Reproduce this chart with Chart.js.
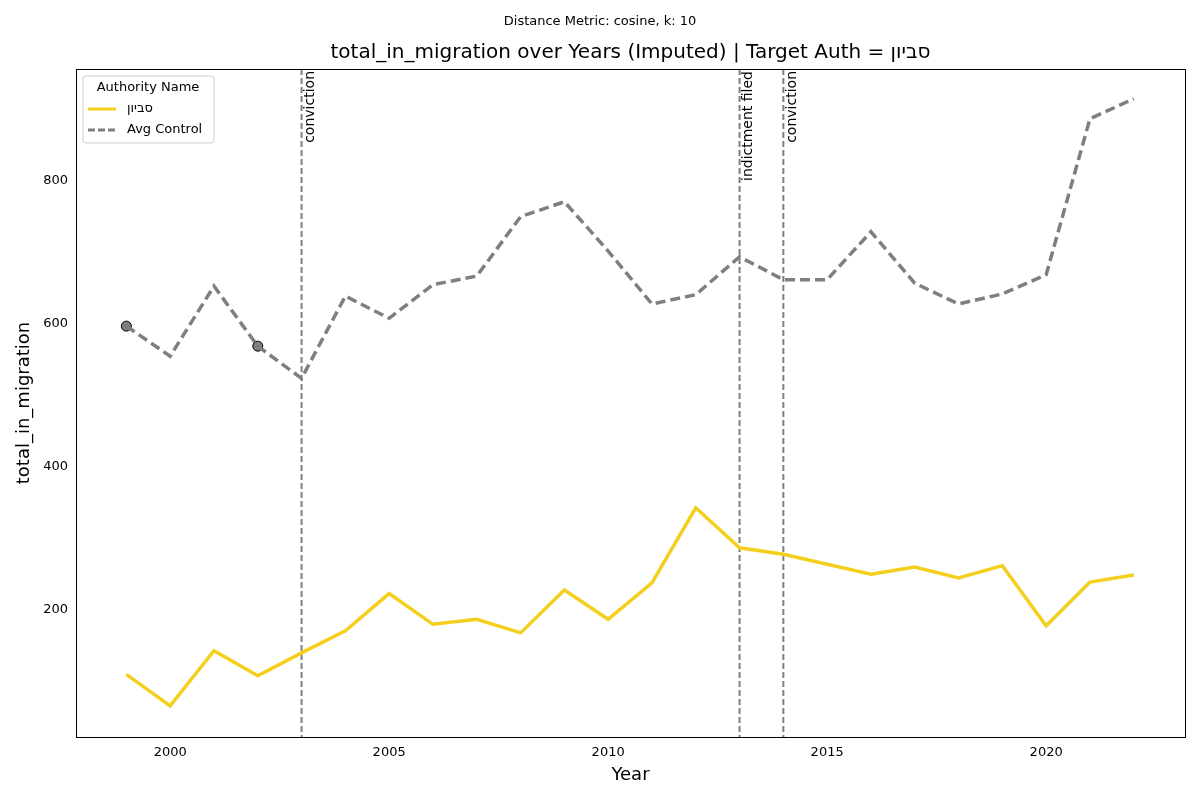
<!DOCTYPE html>
<html>
<head>
<meta charset="utf-8">
<script src="https://cdn.jsdelivr.net/npm/chart.js@4"></script>
<style>
  body { margin: 0; background: #fff; }
  #wrap { width: 1200px; height: 800px; }
</style>
</head>
<body>
<div id="wrap"><canvas id="chart" width="1200" height="800"></canvas></div>
<script>
// Data
const years = [1999, 2000, 2001, 2002, 2003, 2004, 2005, 2006, 2007, 2008, 2009, 2010,
  2011, 2012, 2013, 2014, 2015, 2016, 2017, 2018, 2019, 2020, 2021, 2022];
const targetValues = [110, 66, 143, 108, 140, 171, 223, 180, 187, 168, 228, 187,
  238, 343, 287, 278, 264, 250, 260, 245, 262, 178, 239, 249];
const controlValues = [597, 555, 653, 569, 524, 639, 608, 655, 667, 750, 771, 702,
  628, 641, 694, 662, 662, 729, 657, 628, 642, 669, 887, 915];
const imputedYears = [1999, 2002];
const events = [
  { year: 2003, label: 'conviction' },
  { year: 2013, label: 'indictment filed' },
  { year: 2014, label: 'conviction' }
];
const targetName = 'סביון';

const font = 'DejaVu Sans, sans-serif';

const toXY = (vals) => years.map((y, i) => ({ x: y, y: vals[i] }));

// vertical event lines, frame, titles and legend
const decorations = {
  id: 'decorations',
  beforeDatasetsDraw(chart) {
    const { ctx, chartArea: a, scales: { x } } = chart;
    ctx.save();
    ctx.strokeStyle = '#7f7f7f';
    ctx.lineWidth = 2;
    ctx.setLineDash([6, 3]);
    events.forEach(ev => {
      const px = x.getPixelForValue(ev.year);
      ctx.beginPath();
      ctx.moveTo(px, a.top);
      ctx.lineTo(px, a.bottom);
      ctx.stroke();
    });
    ctx.restore();
  },
  afterDraw(chart) {
    const { ctx, chartArea: a, scales: { x } } = chart;
    ctx.save();
    // labels on event lines
    ctx.fillStyle = '#000';
    ctx.font = '14px ' + font;
    ctx.textAlign = 'right';
    ctx.textBaseline = 'top';
    events.forEach(ev => {
      const px = x.getPixelForValue(ev.year);
      ctx.save();
      ctx.translate(px + 2, a.top + 2);
      ctx.rotate(-Math.PI / 2);
      ctx.fillText(ev.label, 0, 0);
      ctx.restore();
    });
    // frame
    ctx.strokeStyle = '#000';
    ctx.lineWidth = 1;
    ctx.strokeRect(a.left + 0.5, a.top + 0.5, a.right - a.left, a.bottom - a.top);
    // titles
    ctx.textAlign = 'center';
    ctx.textBaseline = 'middle';
    ctx.font = '13px ' + font;
    ctx.fillText('Distance Metric: cosine, k: 10', 600, 22);
    ctx.font = '20px ' + font;
    ctx.fillText('total_in_migration over Years (Imputed) | Target Auth = ' + targetName, (a.left + a.right) / 2, 53);
    ctx.font = '18px ' + font;
    ctx.fillText('Year', (a.left + a.right) / 2, 775);
    ctx.save();
    ctx.translate(24, (a.top + a.bottom) / 2);
    ctx.rotate(-Math.PI / 2);
    ctx.fillText('total_in_migration', 0, 0);
    ctx.restore();
    // legend
    const lx = a.left + 7, ly = a.top + 7;
    ctx.fillStyle = 'rgba(255,255,255,0.85)';
    ctx.strokeStyle = '#ccc';
    ctx.beginPath();
    ctx.roundRect(lx, ly, 131, 67, 3);
    ctx.fill();
    ctx.stroke();
    ctx.fillStyle = '#000';
    ctx.font = '13px ' + font;
    ctx.fillText('Authority Name', lx + 65, ly + 12);
    ctx.textAlign = 'left';
    ctx.lineWidth = 3;
    ctx.strokeStyle = '#f5cf1d';
    ctx.beginPath(); ctx.moveTo(lx + 5, ly + 33); ctx.lineTo(lx + 33, ly + 33); ctx.stroke();
    ctx.fillText(targetName, lx + 44, ly + 33);
    ctx.strokeStyle = '#7f7f7f';
    ctx.setLineDash([7, 3]);
    ctx.beginPath(); ctx.moveTo(lx + 5, ly + 54); ctx.lineTo(lx + 33, ly + 54); ctx.stroke();
    ctx.setLineDash([]);
    ctx.fillText('Avg Control', lx + 44, ly + 54);
    ctx.restore();
  }
};

new Chart(document.getElementById('chart'), {
  type: 'line',
  data: {
    datasets: [
      {
        label: targetName,
        data: toXY(targetValues),
        borderColor: '#f5cf1d',
        borderWidth: 3.5,
        pointRadius: 0,
        tension: 0
      },
      {
        label: 'Avg Control',
        data: toXY(controlValues),
        borderColor: '#7f7f7f',
        borderWidth: 3.5,
        borderDash: [10, 5],
        pointRadius: 0,
        tension: 0
      },
      {
        label: 'Imputed',
        data: imputedYears.map(y => ({ x: y, y: controlValues[years.indexOf(y)] })),
        showLine: false,
        pointRadius: 5,
        pointBackgroundColor: '#7f7f7f',
        pointBorderColor: '#000',
        pointBorderWidth: 1
      }
    ]
  },
  options: {
    responsive: false,
    animation: false,
    layout: { padding: { top: 69, right: 15, left: 0, bottom: 0 } },
    plugins: { legend: { display: false }, title: { display: false }, tooltip: { enabled: false } },
    scales: {
      x: {
        type: 'linear',
        min: 1997.85,
        max: 2023.17,
        afterBuildTicks: s => { s.ticks = [2000, 2005, 2010, 2015, 2020].map(v => ({ value: v })); },
        afterFit: s => { s.height = 63; },
        grid: { display: false, drawTicks: true, tickLength: 5, tickColor: '#000' },
        border: { display: false },
        ticks: { color: '#000', font: { size: 13, family: font }, callback: v => String(v) }
      },
      y: {
        min: 22.4,
        max: 956.6,
        afterBuildTicks: s => { s.ticks = [200, 400, 600, 800].map(v => ({ value: v })); },
        afterFit: s => { s.width = 76; },
        grid: { display: false, drawTicks: true, tickLength: 5, tickColor: '#000' },
        border: { display: false },
        ticks: { color: '#000', font: { size: 13, family: font } }
      }
    }
  },
  plugins: [decorations]
});
</script>
</body>
</html>
